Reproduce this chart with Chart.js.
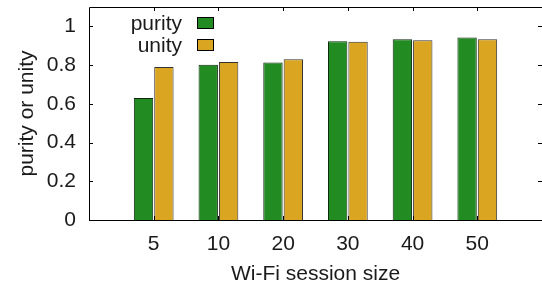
<!DOCTYPE html>
<html>
<head>
<meta charset="utf-8">
<script src="https://cdn.jsdelivr.net/npm/chart.js@4"></script>
<style>
  html, body { margin: 0; padding: 0; overflow: hidden; background: #fff; width: 542px; height: 291px; }
  canvas { display: block; }
</style>
</head>
<body>
<canvas id="c" width="542" height="291"></canvas>
<script>
const categories = ['5', '10', '20', '30', '40', '50'];
const purity = [0.630, 0.802, 0.813, 0.923, 0.933, 0.942];
const unity  = [0.790, 0.816, 0.830, 0.920, 0.928, 0.934];
const yTickValues = [0, 0.2, 0.4, 0.6, 0.8, 1];
const yTickLabels = ['0', '0.2', '0.4', '0.6', '0.8', '1'];
const seriesNames = ['purity', 'unity'];
const seriesColors = ['#228B22', '#DAA520'];

const FONT = "'Liberation Sans', Arial, Helvetica, sans-serif";
const TEXT = '#1a1a1a';

// pad categories with an empty slot on each side (x range -1 .. 6)
const labels = [''].concat(categories, ['']);
const pad = arr => [null].concat(arr, [null]);

const frame = {
  id: 'frame',
  afterDatasetsDraw(chart) {
    const ctx = chart.ctx, a = chart.chartArea;
    const x = chart.scales.x, y = chart.scales.y;
    ctx.save();
    ctx.strokeStyle = '#000';
    ctx.lineWidth = 1;
    ctx.beginPath();
    ctx.rect(Math.round(a.left) + 0.5, Math.round(a.top) + 0.5,
             Math.round(a.right - a.left), Math.round(a.bottom - a.top));
    ctx.stroke();
    const L = 4;
    ctx.beginPath();
    yTickValues.forEach(v => {
      const py = Math.round(y.getPixelForValue(v)) + 0.5;
      ctx.moveTo(a.left, py); ctx.lineTo(a.left + L, py);
      ctx.moveTo(a.right, py); ctx.lineTo(a.right - L, py);
    });
    categories.forEach((c, i) => {
      const px = Math.round(x.getPixelForValue(i + 1)) + 0.5;
      ctx.moveTo(px, a.top); ctx.lineTo(px, a.top + L);
      ctx.moveTo(px, a.bottom); ctx.lineTo(px, a.bottom - L);
    });
    ctx.stroke();

    // key (legend) in upper left, gnuplot style: text right-aligned, then sample box
    ctx.font = '21px ' + FONT;
    ctx.textAlign = 'right';
    ctx.textBaseline = 'middle';
    const keyY = [23, 45];
    chart.data.datasets.forEach((ds, i) => {
      ctx.fillStyle = TEXT;
      ctx.fillText(ds.label, 182, keyY[i] + 1);
      ctx.fillStyle = ds.backgroundColor;
      ctx.fillRect(197, keyY[i] - 5.5, 17, 11);
      ctx.strokeStyle = '#000';
      ctx.strokeRect(197.5, keyY[i] - 5.5, 16, 11);
    });
    ctx.restore();
  }
};

new Chart(document.getElementById('c'), {
  type: 'bar',
  data: {
    labels: labels,
    datasets: [
      { label: seriesNames[0], data: pad(purity), backgroundColor: seriesColors[0],
        borderColor: '#0d2a0d', borderWidth: 1, categoryPercentage: 0.63, barPercentage: 0.95 },
      { label: seriesNames[1], data: pad(unity), backgroundColor: seriesColors[1],
        borderColor: '#333', borderWidth: 1, categoryPercentage: 0.63, barPercentage: 0.95 }
    ]
  },
  options: {
    responsive: false,
    animation: false,
    devicePixelRatio: 1,
    layout: { padding: { top: 7, right: -2, left: 0, bottom: 0 } },
    plugins: { legend: { display: false }, tooltip: { enabled: false } },
    scales: {
      x: {
        offset: false,
        grid: { display: false, drawTicks: false },
        border: { display: false },
        ticks: { color: TEXT, font: { family: FONT, size: 21 }, padding: 12, maxRotation: 0, autoSkip: false },
        title: { display: true, text: 'Wi-Fi session size', color: TEXT,
                 font: { family: FONT, size: 21 }, padding: { top: 0, bottom: 4 } },
        afterFit(s) { s.height = 71; s.paddingLeft = 0; s.paddingRight = 0; }
      },
      y: {
        min: 0, max: 1.1,
        grid: { display: false, drawTicks: false },
        border: { display: false },
        ticks: { color: TEXT, font: { family: FONT, size: 21 }, padding: 13,
                 callback: (v, i) => yTickLabels[i] },
        afterBuildTicks(s) { s.ticks = yTickValues.map(v => ({ value: v })); },
        title: { display: true, text: 'purity or unity', color: TEXT,
                 font: { family: FONT, size: 21 }, padding: { top: 15, bottom: 0 } },
        afterFit(s) { s.width = 89; s.paddingTop = 0; s.paddingBottom = 0; }
      }
    }
  },
  plugins: [frame]
});
</script>
</body>
</html>
